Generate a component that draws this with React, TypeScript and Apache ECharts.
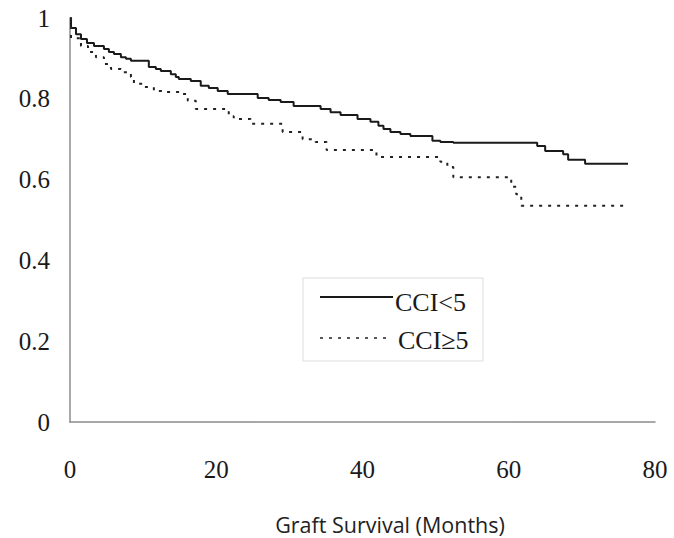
import React, { useEffect, useRef } from "react";
import * as echarts from "echarts";

const xTicks = [0, 20, 40, 60, 80];
const yTicks = [0, 0.2, 0.4, 0.6, 0.8, 1];

const lowCciMonths = [0, 0.14, 0.82, 1.5, 2.32, 3.28, 4.64, 5.32, 6.01, 6.96, 7.65, 8.33, 10.78, 11.74, 12.42, 13.79, 14.47, 14.88, 16.52, 17.88, 18.98, 20.2, 21.57, 25.67, 27.17, 28.81, 30.58, 34.27, 35.63, 37.0, 39.32, 41.09, 42.18, 42.87, 43.82, 45.19, 46.55, 49.56, 50.65, 52.42, 63.89, 64.98, 67.44, 68.12, 70.44, 76.31];
const lowCciSurvival = [1.0, 0.975, 0.96, 0.948, 0.938, 0.931, 0.923, 0.916, 0.911, 0.903, 0.899, 0.894, 0.879, 0.874, 0.869, 0.861, 0.854, 0.849, 0.844, 0.832, 0.827, 0.819, 0.812, 0.802, 0.797, 0.792, 0.782, 0.775, 0.767, 0.76, 0.75, 0.743, 0.733, 0.725, 0.718, 0.713, 0.708, 0.696, 0.693, 0.691, 0.683, 0.671, 0.663, 0.649, 0.639, 0.639];

const highCciMonths = [0, 0.14, 1.5, 2.46, 3.55, 4.64, 5.6, 6.96, 8.33, 8.74, 10.1, 11.47, 13.11, 15.15, 16.11, 17.2, 21.71, 22.39, 24.71, 29.08, 31.81, 33.58, 35.09, 41.91, 50.65, 51.6, 52.42, 60.34, 61.02, 61.71, 76.31];
const highCciSurvival = [1.0, 0.95, 0.931, 0.916, 0.903, 0.886, 0.874, 0.866, 0.854, 0.837, 0.829, 0.819, 0.817, 0.812, 0.795, 0.775, 0.757, 0.75, 0.738, 0.718, 0.7, 0.693, 0.673, 0.656, 0.644, 0.631, 0.606, 0.582, 0.564, 0.535, 0.535];

const seriesNames = ["CCI<5", "CCI≥5"];
const xTitle = "Graft Survival (Months)";

export default function App() {
  const ref = useRef<HTMLDivElement>(null);
  useEffect(() => {
    if (!ref.current) return;
    const chart = echarts.init(ref.current, undefined, { renderer: "svg" });
    const serif = "'Liberation Serif', 'Times New Roman', serif";
    const low = lowCciMonths.map((m, i) => [m, lowCciSurvival[i]]);
    const high = highCciMonths.map((m, i) => [m, highCciSurvival[i]]);
    chart.setOption({
      animation: false,
      backgroundColor: "#ffffff",
      grid: { left: 70, top: 18, width: 585, height: 404 },
      xAxis: {
        type: "value",
        min: xTicks[0],
        max: xTicks[xTicks.length - 1],
        interval: 20,
        axisLine: { show: true, lineStyle: { color: "#8c8c8c", width: 1.5 } },
        axisTick: { show: false },
        splitLine: { show: false },
        axisLabel: { color: "#1a1a1a", fontFamily: serif, fontSize: 25, margin: 35 },
      },
      yAxis: {
        type: "value",
        min: yTicks[0],
        max: yTicks[yTicks.length - 1],
        interval: 0.2,
        axisLine: { show: true, lineStyle: { color: "#8c8c8c", width: 1.5 } },
        axisTick: { show: false },
        splitLine: { show: false },
        axisLabel: {
          color: "#1a1a1a",
          fontFamily: serif,
          fontSize: 25,
          margin: 20,
          padding: [10, 0, 0, 0],
          formatter: (v: number) => String(Math.round(v * 10) / 10),
        },
      },
      series: [
        {
          name: seriesNames[0],
          type: "line",
          step: "end",
          symbol: "none",
          data: low,
          lineStyle: { color: "#1a1a1a", width: 2 },
        },
        {
          name: seriesNames[1],
          type: "line",
          step: "end",
          symbol: "none",
          data: high,
          lineStyle: { color: "#222222", width: 2, type: [3, 6] },
        },
      ],
      graphic: [
        {
          type: "rect",
          shape: { x: 303, y: 278, width: 180, height: 83 },
          style: { fill: "#ffffff", stroke: "#dcdcdc", lineWidth: 1 },
          z: 10,
        },
        {
          type: "line",
          shape: { x1: 320, y1: 297, x2: 393, y2: 297 },
          style: { stroke: "#1a1a1a", lineWidth: 2 },
          z: 11,
        },
        {
          type: "text",
          x: 395,
          y: 302,
          style: { text: seriesNames[0], font: `26px ${serif}`, fill: "#1a1a1a", textVerticalAlign: "middle" },
          z: 11,
        },
        {
          type: "line",
          shape: { x1: 320, y1: 338, x2: 392, y2: 338 },
          style: { stroke: "#222222", lineWidth: 1.5, lineDash: [3, 6] },
          z: 11,
        },
        {
          type: "text",
          x: 398,
          y: 340,
          style: { text: seriesNames[1], font: `26px ${serif}`, fill: "#1a1a1a", textVerticalAlign: "middle" },
          z: 11,
        },
        {
          type: "text",
          x: 390,
          y: 524,
          style: {
            text: xTitle,
            font: "21.5px 'Open Sans', sans-serif",
            fill: "#222222",
            textAlign: "center",
            textVerticalAlign: "middle",
          },
        },
      ],
    });
    return () => chart.dispose();
  }, []);
  return (
    <div
      ref={ref}
      style={{ position: "fixed", left: 0, top: 0, width: 674, height: 538 }}
    />
  );
}
